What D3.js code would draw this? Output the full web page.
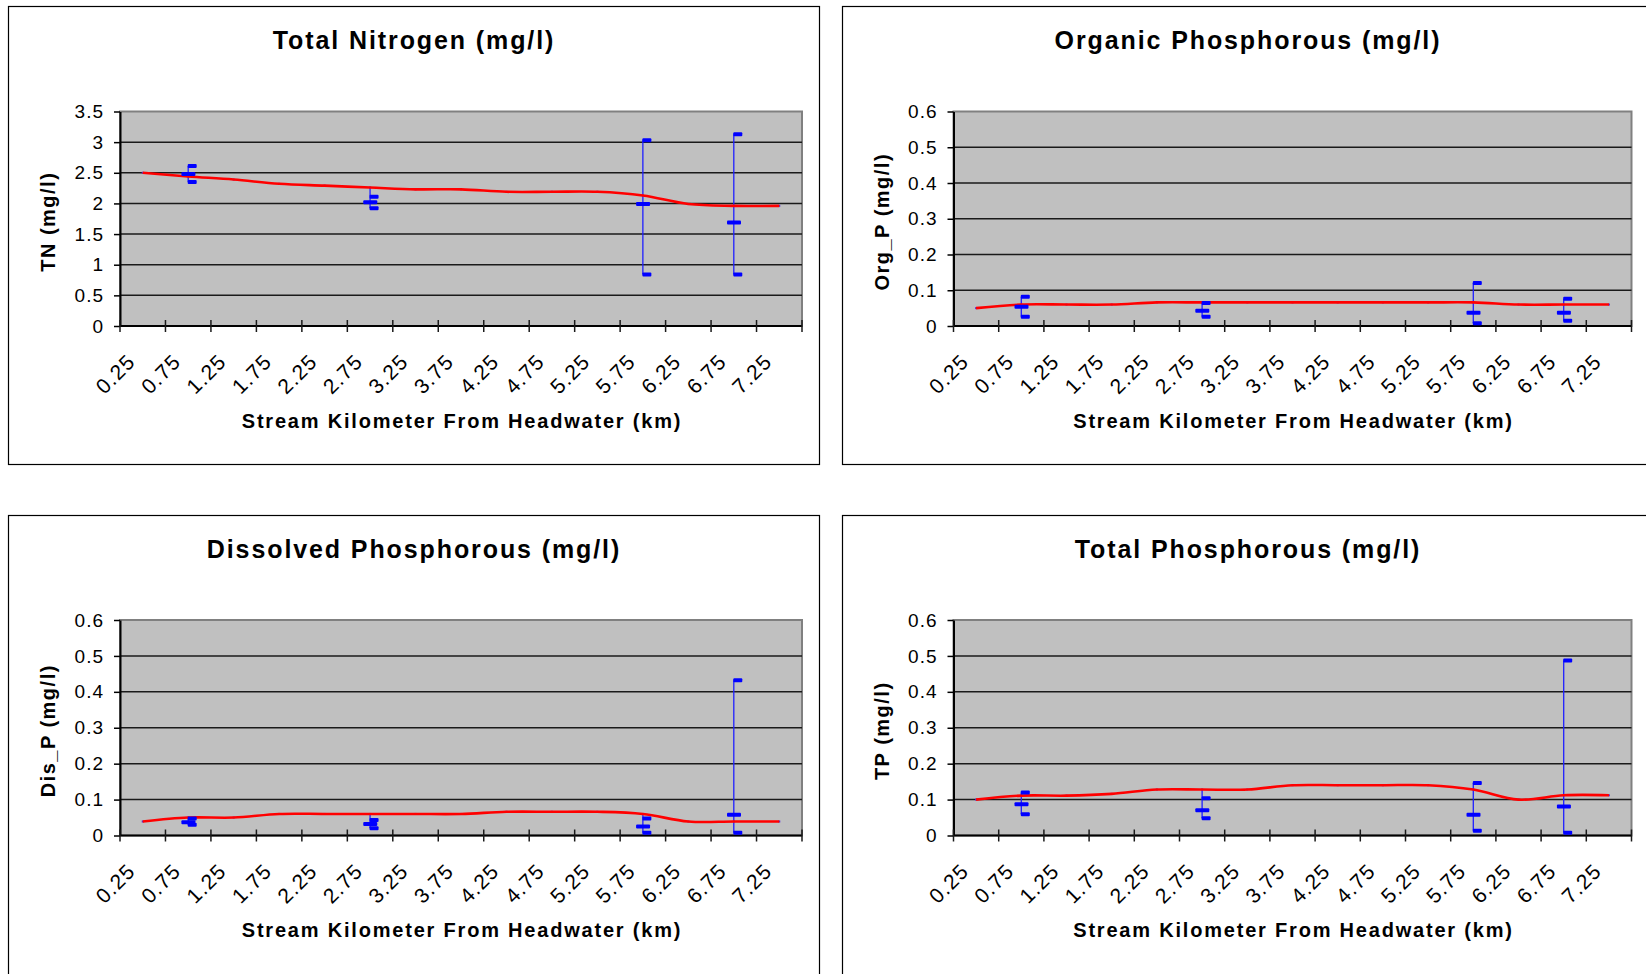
<!DOCTYPE html>
<html>
<head>
<meta charset="utf-8">
<script src="https://cdn.jsdelivr.net/npm/d3@7"></script>
<style>
  html, body { margin: 0; padding: 0; background: #ffffff; }
  svg { display: block; font-family: "Liberation Sans", Arial, sans-serif; }
</style>
</head>
<body>
<script>
// Stream kilometre categories along the x axis
const categories = ["0.25", "0.75", "1.25", "1.75", "2.25", "2.75", "3.25", "3.75",
                    "4.25", "4.75", "5.25", "5.75", "6.25", "6.75", "7.25"];
// Sampling stations where observations were taken
const obsCategories = ["0.75", "2.75", "5.75", "6.75"];

// Total nitrogen (mg/l)
const tnModel   = [2.50, 2.44, 2.39, 2.32, 2.29, 2.26, 2.23, 2.23, 2.19, 2.19, 2.19, 2.13, 1.99, 1.96, 1.96];
const tnObsMax  = [2.61, 2.11, 3.03, 3.13];
const tnObsMean = [2.48, 2.02, 1.99, 1.69];
const tnObsMin  = [2.35, 1.92, 0.84, 0.84];

// Organic phosphorous (mg/l)
const orgPModel   = [0.050, 0.060, 0.060, 0.060, 0.066, 0.066, 0.066, 0.066, 0.066, 0.066, 0.066, 0.066, 0.060, 0.060, 0.060];
const orgPObsMax  = [0.082, 0.064, 0.120, 0.076];
const orgPObsMean = [0.054, 0.043, 0.037, 0.037];
const orgPObsMin  = [0.026, 0.026, 0.008, 0.015];

// Dissolved phosphorous (mg/l)
const disPModel   = [0.039, 0.050, 0.050, 0.060, 0.060, 0.060, 0.060, 0.060, 0.066, 0.066, 0.066, 0.060, 0.039, 0.039, 0.039];
const disPObsMax  = [0.047, 0.043, 0.047, 0.432];
const disPObsMean = [0.037, 0.032, 0.025, 0.058];
const disPObsMin  = [0.030, 0.020, 0.008, 0.008];

// Total phosphorous (mg/l)
const tpModel   = [0.100, 0.111, 0.111, 0.116, 0.128, 0.128, 0.128, 0.140, 0.140, 0.140, 0.140, 0.128, 0.100, 0.112, 0.112];
const tpObsMax  = [0.120, 0.104, 0.146, 0.487];
const tpObsMean = [0.087, 0.070, 0.058, 0.081];
const tpObsMin  = [0.059, 0.048, 0.013, 0.008];

// Value axis ticks
const tnTicks = [0, 0.5, 1, 1.5, 2, 2.5, 3, 3.5];
const pTicks  = [0, 0.1, 0.2, 0.3, 0.4, 0.5, 0.6];

const xTitle = "Stream Kilometer From Headwater (km)";

const W = 1646, H = 974;
const svg = d3.select("body").append("svg").attr("width", W).attr("height", H);

const panels = [
  { title: "Total Nitrogen (mg/l)", yTitle: "TN (mg/l)", ticks: tnTicks,
    model: tnModel, max: tnObsMax, mean: tnObsMean, min: tnObsMin,
    box: { x: 8.5, y: 6.5, w: 811, h: 458 }, plot: { x0: 120, x1: 802, y0: 111.5, y1: 326 } },
  { title: "Organic Phosphorous (mg/l)", yTitle: "Org_P (mg/l)", ticks: pTicks,
    model: orgPModel, max: orgPObsMax, mean: orgPObsMean, min: orgPObsMin,
    box: { x: 842.5, y: 6.5, w: 808, h: 458 }, plot: { x0: 953.5, x1: 1631.5, y0: 111.5, y1: 326 } },
  { title: "Dissolved Phosphorous (mg/l)", yTitle: "Dis_P (mg/l)", ticks: pTicks,
    model: disPModel, max: disPObsMax, mean: disPObsMean, min: disPObsMin,
    box: { x: 8.5, y: 515.5, w: 811, h: 470 }, plot: { x0: 120, x1: 802, y0: 620, y1: 835.5 } },
  { title: "Total Phosphorous (mg/l)", yTitle: "TP (mg/l)", ticks: pTicks,
    model: tpModel, max: tpObsMax, mean: tpObsMean, min: tpObsMin,
    box: { x: 842.5, y: 515.5, w: 808, h: 470 }, plot: { x0: 953.5, x1: 1631.5, y0: 620, y1: 835.5 } }
];

const fmt = d3.format("~g");

function drawPanel(p) {
  const g = svg.append("g");
  const { x0, x1, y0, y1 } = p.plot;

  // chart frame
  g.append("rect")
    .attr("x", p.box.x).attr("y", p.box.y)
    .attr("width", p.box.w).attr("height", p.box.h)
    .attr("fill", "#ffffff").attr("stroke", "#000000").attr("stroke-width", 1.2);

  const x = d3.scaleBand().domain(categories).range([x0, x1]).padding(0);
  const y = d3.scaleLinear().domain([0, d3.max(p.ticks)]).range([y1, y0]);
  const cx = c => x(c) + x.bandwidth() / 2;

  // plot area
  g.append("rect")
    .attr("x", x0).attr("y", y0).attr("width", x1 - x0).attr("height", y1 - y0)
    .attr("fill", "#c0c0c0").attr("stroke", "#808080").attr("stroke-width", 2);

  // horizontal gridlines
  g.append("g").selectAll("line")
    .data(p.ticks.filter(t => t > 0 && t < d3.max(p.ticks)))
    .join("line")
    .attr("x1", x0).attr("x2", x1)
    .attr("y1", d => y(d)).attr("y2", d => y(d))
    .attr("stroke", "#1a1a1a").attr("stroke-width", 1.5);

  // value axis
  const yAxis = g.append("g")
    .attr("transform", `translate(${x0},0)`)
    .call(d3.axisLeft(y).tickValues(p.ticks).tickFormat(fmt)
      .tickSize(6).tickSizeOuter(0).tickPadding(10));
  yAxis.select(".domain").attr("stroke", "#000").attr("stroke-width", 2);
  yAxis.selectAll(".tick line").attr("stroke", "#000").attr("stroke-width", 1.5);
  yAxis.selectAll(".tick text")
    .attr("fill", "#000").style("font-size", "19px").style("letter-spacing", "1px")
    .style("font-family", "'Liberation Sans', Arial, sans-serif");

  // category axis line and tick marks at category boundaries
  g.append("line")
    .attr("x1", x0).attr("x2", x1).attr("y1", y1).attr("y2", y1)
    .attr("stroke", "#000").attr("stroke-width", 2);
  const edges = categories.map(c => x(c)).concat([x(categories[categories.length - 1]) + x.bandwidth()]);
  g.append("g").selectAll("line")
    .data(edges)
    .join("line")
    .attr("x1", d => d).attr("x2", d => d)
    .attr("y1", y1 - 6).attr("y2", y1 + 6)
    .attr("stroke", "#1a1a1a").attr("stroke-width", 1.5);

  // rotated category labels
  g.append("g").selectAll("text")
    .data(categories)
    .join("text")
    .attr("transform", c => `translate(${cx(c) - 6},${y1 + 37}) rotate(-45)`)
    .attr("text-anchor", "end")
    .style("font-size", "21px").style("letter-spacing", "1.2px")
    .attr("fill", "#000")
    .text(c => c);

  // chart title
  g.append("text")
    .attr("x", p.box.x + 405.5).attr("y", p.box.y + 42)
    .attr("text-anchor", "middle")
    .style("font-size", "25px").style("font-weight", "bold").style("letter-spacing", "1.9px")
    .text(p.title);

  // axis titles
  g.append("text")
    .attr("x", (x0 + x1) / 2 + 1).attr("y", y1 + 101.5)
    .attr("text-anchor", "middle")
    .style("font-size", "20px").style("font-weight", "bold").style("letter-spacing", "1.8px")
    .text(xTitle);

  g.append("text")
    .attr("transform", `translate(${x0 - 65},${(y0 + y1) / 2 + 3}) rotate(-90)`)
    .attr("text-anchor", "middle")
    .style("font-size", "20px").style("font-weight", "bold").style("letter-spacing", "1.5px")
    .text(p.yTitle);

  // high-low lines spanning all series at the sampled stations
  const obs = obsCategories.map((c, i) => {
    const m = p.model[categories.indexOf(c)];
    return { c, max: p.max[i], mean: p.mean[i], min: p.min[i],
             hi: d3.max([m, p.max[i], p.mean[i], p.min[i]]),
             lo: d3.min([m, p.max[i], p.mean[i], p.min[i]]) };
  });
  g.append("g").selectAll("line")
    .data(obs)
    .join("line")
    .attr("x1", d => cx(d.c)).attr("x2", d => cx(d.c))
    .attr("y1", d => y(d.hi)).attr("y2", d => y(d.lo))
    .attr("stroke", "#1f1fff").attr("stroke-width", 1.3);

  // tiny high-low stubs at the simulated points
  g.append("g").selectAll("rect")
    .data(categories.map((c, i) => ({ c, v: p.model[i] })))
    .join("rect")
    .attr("x", d => cx(d.c) - 1).attr("y", d => y(d.v) - 1)
    .attr("width", 2).attr("height", 2)
    .attr("fill", "#5a2bd8");

  // simulated profile
  const line = d3.line()
    .x((d, i) => cx(categories[i]))
    .y(d => y(d))
    .curve(d3.curveCardinal.tension(0));
  g.append("path")
    .datum(p.model)
    .attr("d", line)
    .attr("fill", "none")
    .attr("stroke", "#ff0000").attr("stroke-width", 2.6)
    .attr("stroke-linejoin", "round");

  // observed max / mean / min dashes
  const dashes = [];
  obs.forEach(d => {
    dashes.push({ c: d.c, v: d.max, dx: -0.5, w: 9 });
    dashes.push({ c: d.c, v: d.mean, dx: -6.8, w: 14 });
    dashes.push({ c: d.c, v: d.min, dx: -0.5, w: 9 });
  });
  g.append("g").selectAll("rect")
    .data(dashes)
    .join("rect")
    .attr("x", d => cx(d.c) + d.dx).attr("y", d => y(d.v) - 2)
    .attr("width", d => d.w).attr("height", 4)
    .attr("rx", 1)
    .attr("fill", "#0000ff");
}

panels.forEach(drawPanel);
</script>
</body>
</html>
